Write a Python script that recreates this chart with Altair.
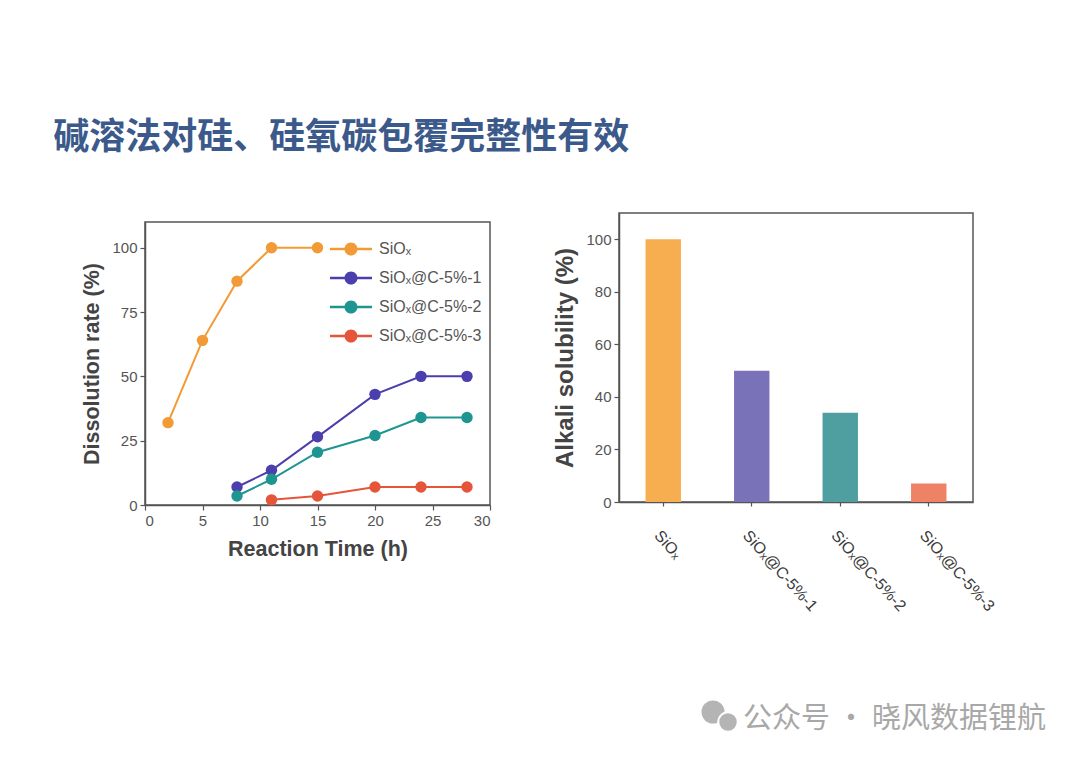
import altair as alt
import pandas as pd

# ---- data ----
series_names = ["SiOₓ", "SiOₓ@C-5%-1", "SiOₓ@C-5%-2", "SiOₓ@C-5%-3"]
line_colors = ["#f29a36", "#4b3fae", "#1f9592", "#e5553a"]

times_siox = [2, 5, 8, 11, 15]
vals_siox = [32, 64, 87, 100, 100]
times_c1 = [8, 11, 15, 20, 24, 28]
vals_c1 = [7, 13.5, 26.5, 43, 50, 50]
times_c2 = [8, 11, 15, 20, 24, 28]
vals_c2 = [3.5, 10, 20.5, 27, 34, 34]
times_c3 = [11, 15, 20, 24, 28]
vals_c3 = [2, 3.5, 7, 7, 7]

x_ticks = [0, 5, 10, 15, 20, 25, 30]
y_ticks_left = [0, 25, 50, 75, 100]

bar_values = [100, 50, 34, 7]
bar_colors = ["#f7ae50", "#7a72b9", "#4f9ea0", "#ef8165"]
y_ticks_right = [0, 20, 40, 60, 80, 100]

title_text = "碱溶法对硅、硅氧碳包覆完整性有效"
watermark_text = "公众号 · 晓风数据锂航"

rows = []
for name, ts, vs in zip(series_names,
                        [times_siox, times_c1, times_c2, times_c3],
                        [vals_siox, vals_c1, vals_c2, vals_c3]):
    for t, v in zip(ts, vs):
        rows.append({"series": name, "time": t, "rate": v})
df = pd.DataFrame(rows)

FONT = "Liberation Sans"
AX = "#555555"

legend_path = ("M-1,-0.055 L-0.3,-0.055 L-0.3,0.055 L-1,0.055 Z "
               "M0.3,-0.055 L1,-0.055 L1,0.055 L0.3,0.055 Z "
               "M0.31,0 A0.31,0.31 0 1,1 -0.31,0 A0.31,0.31 0 1,1 0.31,0 Z")

base = alt.Chart(df).encode(
    x=alt.X("time:Q", scale=alt.Scale(domain=[0, 30], nice=False),
            axis=alt.Axis(values=x_ticks, title="Reaction Time (h)", grid=False, titlePadding=10)),
    y=alt.Y("rate:Q", scale=alt.Scale(domain=[0, 110], nice=False),
            axis=alt.Axis(values=y_ticks_left, title="Dissolution rate (%)", grid=False)),
    color=alt.Color("series:N", sort=series_names,
                    scale=alt.Scale(domain=series_names, range=line_colors),
                    legend=alt.Legend(orient="none", legendX=185, legendY=6, title=None,
                                      symbolType=legend_path, symbolSize=1764,
                                      symbolOpacity=1, symbolStrokeWidth=0,
                                      labelFontSize=16, labelColor="#555555", labelFont=FONT,
                                      labelOffset=7, rowPadding=-14)),
)
pts = base.mark_point(filled=True, size=130, opacity=1)
lines = base.mark_line(strokeWidth=2)
left_plot = alt.layer(pts, lines).properties(width=345, height=283)

aux_df = pd.DataFrame({"t": [watermark_text]})
# empty strip above the left panel so it sits slightly lower than the right one
spacer = alt.Chart(aux_df).mark_point(opacity=0).encode(
    x=alt.value(0), y=alt.value(0)
).properties(width=345, height=1, view=alt.ViewBackground(stroke="transparent"))

left = alt.vconcat(spacer, left_plot, spacing=4).resolve_scale(color="independent")

bars_df = pd.DataFrame({"cat": series_names, "val": bar_values})
bars = alt.Chart(bars_df).mark_bar().encode(
    x=alt.X("cat:N", sort=series_names,
            scale=alt.Scale(paddingInner=0.6, paddingOuter=0.3),
            axis=alt.Axis(title=None, labelAngle=48, labelAlign="left", labelBaseline="top",
                          labelPadding=21, tickSize=4, labelFontSize=16, labelColor="#3a3a3a")),
    y=alt.Y("val:Q", scale=alt.Scale(domain=[0, 110], nice=False),
            axis=alt.Axis(values=y_ticks_right, title="Alkali solubility (%)", grid=False,
                          titleFontSize=24)),
    color=alt.Color("cat:N", scale=alt.Scale(domain=series_names, range=bar_colors), legend=None),
)

watermark = alt.Chart(aux_df).mark_text(
    align="right", baseline="middle", fontSize=29, font="Noto Sans CJK SC", color="#a8a8a8"
).encode(x=alt.value(427), y=alt.value(506), text="t:N")
icon_big = alt.Chart(aux_df).mark_circle(size=530, color="#b4b4b4", opacity=1).encode(
    x=alt.value(94), y=alt.value(499))
icon_small = alt.Chart(aux_df).mark_circle(size=380, color="#b4b4b4", opacity=1,
                                           stroke="white", strokeWidth=2).encode(
    x=alt.value(109), y=alt.value(509))

right = alt.layer(bars, watermark, icon_big, icon_small).properties(width=354, height=289)

chart = alt.hconcat(left, right, spacing=61).resolve_scale(color="independent").properties(
    title=alt.TitleParams(title_text, anchor="start", fontSize=36, font="Noto Sans CJK SC",
                          fontWeight="bold", color="#3b5a8b", dx=-28, offset=53),
    padding={"left": 45, "top": 111, "right": 0, "bottom": 0},
).configure_view(stroke=AX, strokeWidth=1.5).configure_axis(
    labelFont=FONT, titleFont=FONT, labelFontSize=15, titleFontSize=21.5,
    labelColor="#555555", titleColor="#444444", titleFontWeight="bold",
    domainColor=AX, domainWidth=1.5, tickColor=AX, tickWidth=1.2, tickSize=5,
    labelPadding=3, titlePadding=8,
)

chart.save("out.html", embed_options={"renderer": "svg", "actions": False})
